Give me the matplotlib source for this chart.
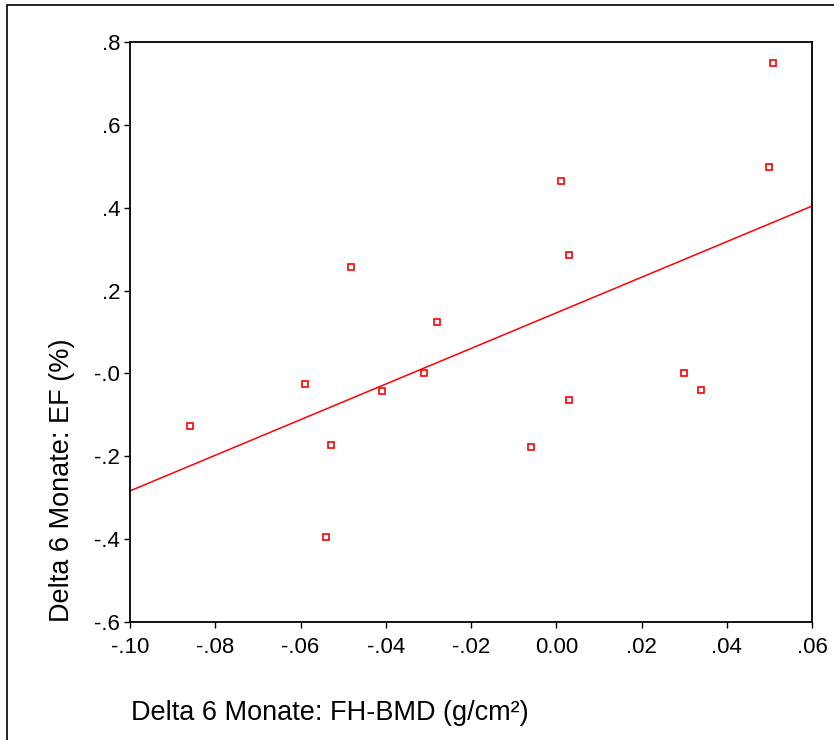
import numpy as np
import matplotlib
matplotlib.use("Agg")
import matplotlib.pyplot as plt
from matplotlib.patches import Rectangle

# Change in femoral-head BMD (g/cm²) vs change in EF (%) after 6 months
bmd_delta = [-0.0859, -0.0589, -0.0528, -0.0540, -0.0482, -0.0409, -0.0310, -0.0280,
             -0.0059, 0.0011, 0.0030, 0.0030, 0.0300, 0.0340, 0.0499, 0.0508]
ef_delta = [-0.127, -0.026, -0.173, -0.395, 0.257, -0.042, 0.001, 0.124,
            -0.178, 0.465, 0.286, -0.064, 0.000, -0.041, 0.498, 0.749]

x_ticks = [-0.10, -0.08, -0.06, -0.04, -0.02, 0.00, 0.02, 0.04, 0.06]
x_tick_labels = ["-.10", "-.08", "-.06", "-.04", "-.02", "0.00", ".02", ".04", ".06"]
y_ticks = [0.8, 0.6, 0.4, 0.2, 0.0, -0.2, -0.4, -0.6]
y_tick_labels = [".8", ".6", ".4", ".2", "-.0", "-.2", "-.4", "-.6"]

plt.rcParams["font.family"] = ["Liberation Sans", "DejaVu Sans"]

W, H = 834, 740
fig = plt.figure(figsize=(W / 100, H / 100), dpi=100)
ax = fig.add_axes([130 / W, 1 - 622 / H, (812 - 130) / W, (622 - 42) / H])

x = np.array(bmd_delta)
y = np.array(ef_delta)
ax.plot(x, y, linestyle="none", marker="s", markersize=5, markerfacecolor="white",
        markeredgecolor="#ff0000", markeredgewidth=1.2, zorder=3)

# least squares fit line across the full x range
slope, intercept = np.polyfit(x, y, 1)
xs = np.array([x_ticks[0], x_ticks[-1]])
ax.plot(xs, slope * xs + intercept, color="#ff0000", linewidth=1.1, zorder=2)

ax.set_xlim(x_ticks[0], x_ticks[-1])
ax.set_ylim(y_ticks[-1], y_ticks[0])
ax.set_xticks(x_ticks)
ax.set_xticklabels(x_tick_labels)
ax.set_yticks(y_ticks)
ax.set_yticklabels(y_tick_labels)
ax.tick_params(direction="out", length=4, width=1, labelsize=16)
ax.tick_params(axis="x", pad=7)
ax.tick_params(axis="y", pad=3)
for s in ax.spines.values():
    s.set_linewidth(1.3)

fig.text(131 / W, 1 - 713 / H, "Delta 6 Monate: FH-BMD (g/cm²)", fontsize=19.5,
         ha="left", va="center")
fig.text(62 / W, 1 - 622 / H, "Delta 6 Monate: EF (%)", fontsize=19.5,
         rotation=90, ha="center", va="bottom")

# outer frame, cut by the right and bottom edges of the image
fig.add_artist(Rectangle((7 / W, -0.5), 2, 1.5 - 5 / H, transform=fig.transFigure,
                         fill=False, edgecolor="black", linewidth=1.2))

fig.savefig("out.png", dpi=100)
